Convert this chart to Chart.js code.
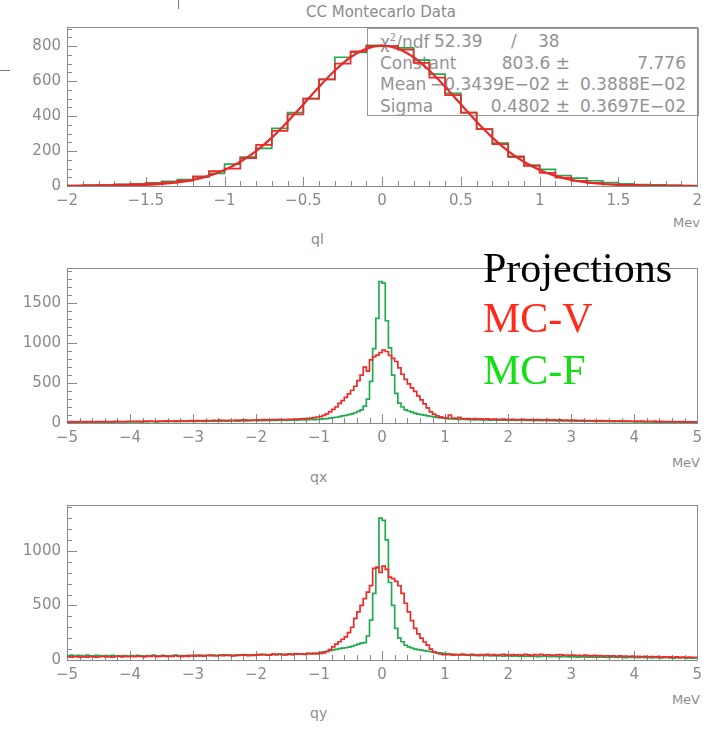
<!DOCTYPE html>
<html>
<head>
<meta charset="utf-8">
<script src="https://cdn.jsdelivr.net/npm/chart.js@4.4.0/dist/chart.umd.min.js"></script>
<style>
body{margin:0;background:#fff;width:708px;height:731px;overflow:hidden;position:relative;font-family:"DejaVu Sans",sans-serif}
canvas{position:absolute;left:0;z-index:1}
.t{position:absolute;color:#8c8c8c;white-space:nowrap;line-height:1}
.stats{position:absolute;left:367px;top:28px;width:332px;height:88px;border:1px solid #9a9a9a;box-sizing:border-box;z-index:0}
.stats span{position:absolute;color:#939393;font-size:17px;white-space:nowrap;line-height:1}
.leg{position:absolute;left:483px;font-family:"Liberation Serif",serif;font-size:42px;line-height:1;z-index:2;white-space:nowrap}
.mark{position:absolute;background:#777;z-index:2}
</style>
</head>
<body>
<div class="mark" style="left:178px;top:0;width:1px;height:9px"></div>
<div class="mark" style="left:0;top:70px;width:10px;height:1px"></div>

<div class="t" style="left:306px;top:5px;font-size:15px">CC Montecarlo Data</div>
<div class="stats">
  <span style="left:12px;top:4px">χ<sup style="font-size:10px">2</sup>/ndf</span>
  <span style="left:66px;top:4px">52.39</span>
  <span style="left:143px;top:4px">/</span>
  <span style="left:170px;top:4px">38</span>
  <span style="left:12px;top:26px">Constant</span>
  <span style="right:128px;top:26px">803.6 ±</span>
  <span style="right:12px;top:26px">7.776</span>
  <span style="left:12px;top:47px">Mean</span>
  <span style="right:128px;top:47px">−0.3439E−02 ±</span>
  <span style="right:12px;top:47px">0.3888E−02</span>
  <span style="left:12px;top:69px">Sigma</span>
  <span style="right:128px;top:69px">0.4802 ±</span>
  <span style="right:12px;top:69px">0.3697E−02</span>
</div>
<div class="t" style="right:8px;top:216px;font-size:13px">Mev</div>
<div class="t" style="left:311px;top:232px;font-size:14px">ql</div>
<div class="t" style="right:8px;top:456px;font-size:13px">MeV</div>
<div class="t" style="left:310px;top:470px;font-size:14px">qx</div>
<div class="t" style="right:8px;top:693px;font-size:13px">MeV</div>
<div class="t" style="left:310px;top:706px;font-size:14px">qy</div>

<div class="leg" style="top:247px;color:#000">Projections</div>
<div class="leg" style="top:297px;color:#ff2a1a">MC-V</div>
<div class="leg" style="top:349px;color:#12e012">MC-F</div>

<canvas id="cQl" width="708" height="215" style="top:0"></canvas>
<canvas id="cQx" width="708" height="200" style="top:250px"></canvas>
<canvas id="cQy" width="708" height="200" style="top:490px"></canvas>

<script>
// ql : 40 bins of 0.1 MeV from -2 to 2
const qlLow = -2, qlWidth = 0.1;
const qlGreen = [3,5,6,9,12,18,26,36,52,72, 125,165,215,330,420,500,610,737,765,805,
                 800,790,720,640,530,420,325,245,165,120, 95,60,45,30,20,12,8,6,4,3];
const qlRed = [2,4,5,8,11,15,21,31,55,85, 100,160,235,315,410,500,610,700,770,800,
               800,780,705,620,520,420,325,240,170,115, 75,48,30,18,10,6,4,3,2,1];
// gaussian fit read every 0.1 MeV from -2 to 2
const qlFit = [0.1,0.3,0.7,1.5,3.1,6.1,11.4,20.5,35,58,92,139,200,277,368,467,568,661,737,786,803.6,
               786,737,661,568,467,368,277,200,139,92,58,35,20.5,11.4,6.1,3.1,1.5,0.7,0.3,0.1];

// qx, qy : 200 bins of 0.05 MeV from -5 to 5
const qLow = -5, qWidth = 0.05;
const qxRed = [
  14,16,13,15,17,14,16,18,15,17,16,19,17,15,18,20,17,19,18,21,
  19,22,20,18,23,21,24,22,20,25,23,26,24,22,27,25,28,24,26,29,
  27,30,26,29,31,28,33,30,35,32,29,34,31,36,33,35,38,34,37,36,
  39,37,41,38,40,43,42,45,41,44,47,46,50,48,52,55,58,62,68,75,
  80,95,115,140,170,200,245,280,320,365,410,460,530,600,700,650,790,830,850,880,
  912,895,845,810,770,690,610,545,490,440,395,340,290,240,190,140,110,90,78,68,
  60,100,62,58,70,55,52,56,50,54,48,51,47,52,45,49,46,44,48,43,
  42,45,40,44,47,41,39,43,38,42,40,37,41,36,39,35,38,34,37,33,
  35,32,30,33,29,31,28,30,27,29,26,28,25,27,24,26,28,23,25,22,
  24,21,23,20,22,19,25,18,20,17,19,16,18,15,17,16,14,15,13,14];
const qxGreen = [
  10,12,9,11,13,10,12,11,14,12,13,11,15,13,12,14,16,13,15,14,
  16,14,17,15,18,16,19,17,15,18,20,17,19,21,18,20,22,19,21,23,
  20,22,24,21,23,25,22,26,24,27,23,25,28,26,24,29,27,30,28,31,
  29,32,30,33,31,34,32,35,37,34,36,38,36,39,41,38,42,44,41,45,
  48,52,55,60,66,72,80,88,96,105,115,128,145,165,210,300,520,930,1310,1770,
  1750,1280,940,600,370,250,200,165,150,135,120,112,105,98,90,82,76,70,64,60,
  55,52,50,48,46,44,45,42,43,40,41,39,40,38,37,39,36,37,35,36,
  34,35,33,36,32,34,31,33,30,32,29,31,30,28,29,27,28,26,27,25,
  26,24,25,23,24,22,23,21,22,20,21,19,20,18,19,17,18,16,17,16,
  15,16,14,15,13,14,12,13,12,11,12,10,11,10,9,10,9,8,9,8];
const qyRed = [
  30,26,32,28,25,31,27,33,29,26,30,34,28,31,27,32,35,29,33,30,
  34,31,36,32,29,35,33,37,31,34,38,32,36,33,39,35,31,37,34,40,
  36,42,38,35,41,44,39,37,43,40,46,42,38,45,41,48,44,40,47,43,
  50,46,52,48,45,53,49,55,51,47,54,50,57,53,56,52,58,55,60,57,
  60,66,76,95,121,145,167,190,212,250,300,382,440,500,563,621,682,840,850,803,
  860,830,760,745,720,680,610,520,440,360,290,240,200,165,136,100,75,62,55,50,
  48,52,45,50,47,53,49,46,51,48,44,50,47,52,46,49,45,48,51,47,
  46,50,44,48,45,52,47,43,49,46,51,44,48,45,42,47,50,44,46,42,
  45,41,43,39,44,40,37,42,38,41,36,39,35,38,34,37,33,36,32,35,
  31,34,30,33,29,32,28,31,27,30,26,29,25,28,24,27,23,26,25,24];
const qyGreen = [
  38,45,36,42,40,35,44,39,37,43,41,36,40,38,42,35,39,37,41,36,
  40,36,43,38,35,41,37,44,39,36,42,38,34,40,45,37,41,38,43,39,
  42,38,45,40,43,39,46,41,44,48,42,46,43,40,47,44,49,45,42,48,
  46,52,48,44,50,55,49,53,47,51,56,52,58,54,57,53,60,62,58,64,
  70,75,80,85,92,98,105,108,112,118,125,135,145,155,160,220,365,610,845,1300,
  1280,1100,710,500,290,200,167,135,121,110,100,95,90,86,80,76,72,68,65,62,
  58,55,52,50,48,46,44,45,42,43,40,41,39,42,38,40,37,39,36,38,
  37,35,38,34,36,33,35,32,34,31,33,35,32,30,34,31,29,33,30,28,
  31,29,27,30,28,26,29,27,25,28,26,24,27,25,23,26,24,22,25,23,
  24,22,25,21,23,20,24,22,19,21,23,20,18,22,19,21,18,20,17,19];

const RED = '#f02a2a', GREEN = '#22aa50', AXIS = '#8a8a8a';

// histogram outline: each bin contributes its two edges at the bin height
function histPoints(low, width, counts) {
  const pts = [];
  counts.forEach((c, i) => {
    pts.push({x: low + i * width, y: c});
    pts.push({x: low + (i + 1) * width, y: c});
  });
  return pts;
}

function histSet(pts, color, order) {
  return {data: pts, borderColor: color, borderWidth: 1.7, pointRadius: 0,
          fill: false, tension: 0, order: order};
}

// frame plus inward major/minor ticks, paw style
const rootAxes = {
  id: 'rootAxes',
  beforeDatasetsDraw(chart, args, o) {
    const {ctx, chartArea: a, scales: {x, y}} = chart;
    ctx.save();
    ctx.strokeStyle = AXIS;
    ctx.lineWidth = 1;
    ctx.strokeRect(Math.round(a.left) + 0.5, Math.round(a.top) + 0.5,
                   Math.round(a.right - a.left), Math.round(a.bottom - a.top));
    ctx.beginPath();
    let n = Math.round((x.max - x.min) / o.xMinor);
    for (let k = 0; k <= n; k++) {
      const v = x.min + k * o.xMinor;
      const major = Math.abs(v / o.xMajor - Math.round(v / o.xMajor)) < 1e-6;
      const px = Math.round(x.getPixelForValue(v)) + 0.5;
      ctx.moveTo(px, a.bottom);
      ctx.lineTo(px, a.bottom - (major ? 9 : 5));
    }
    n = Math.floor(y.max / o.yMinor + 1e-9);
    for (let k = 0; k <= n; k++) {
      const v = k * o.yMinor;
      const major = k % Math.round(o.yMajor / o.yMinor) === 0;
      const py = Math.round(y.getPixelForValue(v)) + 0.5;
      ctx.moveTo(a.left, py);
      ctx.lineTo(a.left + (major ? 10 : 5), py);
    }
    ctx.stroke();
    ctx.restore();
  }
};

const fmt = v => String(Math.round(v * 100) / 100).replace('-', '\u2212');

// labelled ticks only at whole multiples of the major step
function majorTicks(step) {
  return s => {
    const out = [];
    const first = Math.ceil(s.min / step - 1e-9), last = Math.floor(s.max / step + 1e-9);
    for (let k = first; k <= last; k++) out.push({value: k * step});
    s.ticks = out;
  };
}

function makePanel(id, datasets, p) {
  new Chart(document.getElementById(id), {
    type: 'line',
    data: {datasets: datasets},
    plugins: [rootAxes],
    options: {
      responsive: false,
      animation: false,
      devicePixelRatio: 1,
      parsing: false,
      layout: {padding: {top: p.padTop, right: 9, left: 0, bottom: 0}},
      plugins: {legend: {display: false}, tooltip: {enabled: false},
                rootAxes: {xMinor: p.xMinor, xMajor: p.xMajor, yMinor: p.yMinor, yMajor: p.yMajor}},
      scales: {
        x: {type: 'linear', min: p.xMin, max: p.xMax,
            grid: {display: false, drawTicks: false}, border: {display: false},
            afterBuildTicks: majorTicks(p.xMajor),
            ticks: {autoSkip: false, maxRotation: 0,
                    padding: 6, color: AXIS, font: {family: 'DejaVu Sans', size: 15}, callback: fmt},
            afterFit: s => { s.height = p.xAxisH; }},
        y: {type: 'linear', min: 0, max: p.yMax,
            grid: {display: false, drawTicks: false}, border: {display: false},
            afterBuildTicks: majorTicks(p.yMajor),
            ticks: {autoSkip: false, padding: 6, color: AXIS,
                    font: {family: 'DejaVu Sans', size: 15}, callback: fmt},
            afterFit: s => { s.width = 67; }}
      }
    }
  });
}

const fitPts = qlFit.map((v, i) => ({x: qlLow + i * 0.1, y: v}));

makePanel('cQl', [
  {data: fitPts, borderColor: '#e62a2a', borderWidth: 2.2, pointRadius: 0, fill: false,
   cubicInterpolationMode: 'monotone', order: 0},
  histSet(histPoints(qlLow, qlWidth, qlRed), RED, 1),
  histSet(histPoints(qlLow, qlWidth, qlGreen), GREEN, 2)
], {padTop: 27, xAxisH: 29, xMin: -2, xMax: 2, xMajor: 0.5, xMinor: 0.1,
    yMax: 910, yMajor: 200, yMinor: 50});

makePanel('cQx', [
  histSet(histPoints(qLow, qWidth, qxRed), RED, 1),
  histSet(histPoints(qLow, qWidth, qxGreen), GREEN, 2)
], {padTop: 18, xAxisH: 27, xMin: -5, xMax: 5, xMajor: 1, xMinor: 0.2,
    yMax: 1940, yMajor: 500, yMinor: 100});

makePanel('cQy', [
  histSet(histPoints(qLow, qWidth, qyRed), RED, 1),
  histSet(histPoints(qLow, qWidth, qyGreen), GREEN, 2)
], {padTop: 15, xAxisH: 30, xMin: -5, xMax: 5, xMajor: 1, xMinor: 0.2,
    yMax: 1420, yMajor: 500, yMinor: 100});
</script>
</body>
</html>
